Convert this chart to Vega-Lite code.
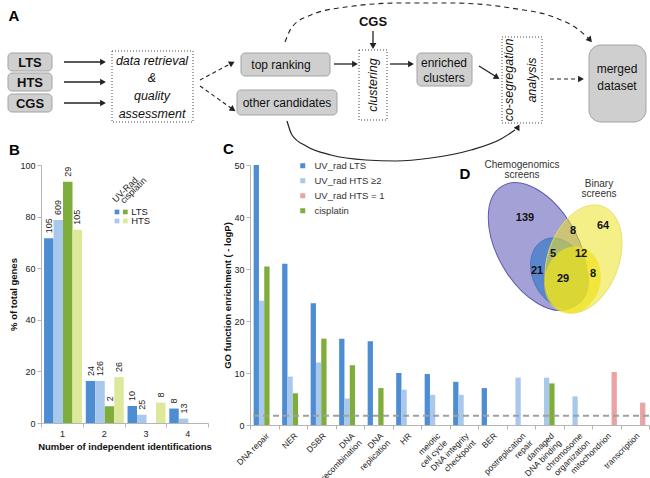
{
  "$schema": "https://vega.github.io/schema/vega-lite/v6.json",
  "padding": {"left": 7, "top": 0, "right": 0, "bottom": 0},
  "background": "white",
  "config": {
    "font": "Liberation Sans",
    "view": {"stroke": null},
    "title": {"fontSize": 15, "fontWeight": "bold", "anchor": "start", "offset": 3, "color": "#000000"},
    "axis": {"grid": false, "domainColor": "#b5b5b5", "tickColor": "#b5b5b5", "labelColor": "#222222", "labelFontSize": 9, "titleColor": "#111111", "titleFontSize": 9.5, "titleFontWeight": "bold", "tickSize": 4, "labelPadding": 2}
  },
  "datasets": {
    "boxes": [
      {"id": "LTS", "kind": "box", "x": 7, "x2": 51, "y": 53, "y2": 71},
      {"id": "HTS", "kind": "box", "x": 7, "x2": 51, "y": 73, "y2": 91},
      {"id": "CGS", "kind": "box", "x": 7, "x2": 51, "y": 94, "y2": 112},
      {"id": "top ranking", "kind": "box", "x": 240, "x2": 329, "y": 53, "y2": 76},
      {"id": "other candidates", "kind": "box", "x": 236, "x2": 336, "y": 90, "y2": 115},
      {"id": "enriched clusters", "kind": "box", "x": 416, "x2": 471, "y": 53, "y2": 86},
      {"id": "merged dataset", "kind": "terminal", "x": 588, "x2": 645, "y": 45, "y2": 122},
      {"id": "data retrieval & quality assessment", "kind": "step", "x": 111, "x2": 192, "y": 51, "y2": 122},
      {"id": "clustering", "kind": "step", "x": 358, "x2": 386, "y": 50, "y2": 120},
      {"id": "co-segregation analysis", "kind": "step", "x": 501, "x2": 541, "y": 37, "y2": 123}
    ],
    "arrows": [
      {"flow": "main", "x": 63, "y": 62, "x2": 100, "y2": 62},
      {"flow": "main", "x": 63, "y": 82, "x2": 100, "y2": 82},
      {"flow": "main", "x": 63, "y": 103, "x2": 100, "y2": 103},
      {"flow": "main", "x": 333, "y": 64, "x2": 352, "y2": 64},
      {"flow": "main", "x": 372, "y": 31, "x2": 372, "y2": 44},
      {"flow": "main", "x": 389, "y": 64, "x2": 408, "y2": 64},
      {"flow": "main", "x": 478, "y": 66, "x2": 494, "y2": 76},
      {"flow": "optional", "x": 199, "y": 80, "x2": 229, "y2": 64},
      {"flow": "optional", "x": 199, "y": 86, "x2": 230, "y2": 108},
      {"flow": "optional", "x": 549, "y": 79, "x2": 578, "y2": 79}
    ],
    "heads": [
      {"x": 102, "y": 62, "heading": 0},
      {"x": 102, "y": 82, "heading": 0},
      {"x": 102, "y": 103, "heading": 0},
      {"x": 354, "y": 64, "heading": 0},
      {"x": 372, "y": 46, "heading": 90},
      {"x": 410, "y": 64, "heading": 0},
      {"x": 496, "y": 77.5, "heading": 32},
      {"x": 231, "y": 63, "heading": -28},
      {"x": 232, "y": 109.5, "heading": 35},
      {"x": 580, "y": 79, "heading": 0},
      {"x": 589, "y": 40, "heading": 50},
      {"x": 517, "y": 127, "heading": -60}
    ],
    "curves": [
      {"path": "shortcut", "x": 284, "y": 42},
      {"path": "shortcut", "x": 291, "y": 27},
      {"path": "shortcut", "x": 310, "y": 15},
      {"path": "shortcut", "x": 345, "y": 7},
      {"path": "shortcut", "x": 400, "y": 3},
      {"path": "shortcut", "x": 450, "y": 3},
      {"path": "shortcut", "x": 510, "y": 8},
      {"path": "shortcut", "x": 555, "y": 18},
      {"path": "shortcut", "x": 578, "y": 30},
      {"path": "shortcut", "x": 587, "y": 38},
      {"path": "bypass", "x": 286, "y": 121},
      {"path": "bypass", "x": 291, "y": 135},
      {"path": "bypass", "x": 305, "y": 146},
      {"path": "bypass", "x": 330, "y": 155},
      {"path": "bypass", "x": 365, "y": 160},
      {"path": "bypass", "x": 395, "y": 161},
      {"path": "bypass", "x": 430, "y": 158},
      {"path": "bypass", "x": 470, "y": 150},
      {"path": "bypass", "x": 500, "y": 139},
      {"path": "bypass", "x": 514, "y": 130}
    ],
    "textsA": [
      {"text": "A", "role": "panel", "x": 13, "y": 16},
      {"text": "LTS", "role": "source", "x": 29, "y": 62.5},
      {"text": "HTS", "role": "source", "x": 29, "y": 82.5},
      {"text": "CGS", "role": "source", "x": 29, "y": 103.5},
      {"text": "CGS", "role": "source", "x": 372, "y": 22},
      {"text": "data retrieval", "role": "process", "x": 151, "y": 61},
      {"text": "&", "role": "process", "x": 151, "y": 78},
      {"text": "quality", "role": "process", "x": 151, "y": 96},
      {"text": "assessment", "role": "process", "x": 151, "y": 114},
      {"text": "top ranking", "role": "node", "x": 280, "y": 65},
      {"text": "other candidates", "role": "node", "x": 286, "y": 103},
      {"text": "enriched", "role": "node", "x": 443, "y": 63},
      {"text": "clusters", "role": "node", "x": 443, "y": 78},
      {"text": "merged", "role": "node", "x": 616, "y": 69},
      {"text": "dataset", "role": "node", "x": 616, "y": 86},
      {"text": "clustering", "role": "processV", "x": 372, "y": 85},
      {"text": "co-segregation", "role": "processV", "x": 508, "y": 80},
      {"text": "analysis", "role": "processV", "x": 531, "y": 80}
    ],
    "panelB": [
      {"identifications": 1, "series": "UV-Rad LTS", "percent": 71.6, "genes": "105"},
      {"identifications": 1, "series": "UV-Rad HTS", "percent": 78.7, "genes": "609"},
      {"identifications": 1, "series": "cisplatin LTS", "percent": 93.5, "genes": "29"},
      {"identifications": 1, "series": "cisplatin HTS", "percent": 74.9, "genes": "105"},
      {"identifications": 2, "series": "UV-Rad LTS", "percent": 16.3, "genes": "24"},
      {"identifications": 2, "series": "UV-Rad HTS", "percent": 16.3, "genes": "126"},
      {"identifications": 2, "series": "cisplatin LTS", "percent": 6.5, "genes": "2"},
      {"identifications": 2, "series": "cisplatin HTS", "percent": 17.8, "genes": "26"},
      {"identifications": 3, "series": "UV-Rad LTS", "percent": 6.6, "genes": "10"},
      {"identifications": 3, "series": "UV-Rad HTS", "percent": 3.2, "genes": "25"},
      {"identifications": 3, "series": "cisplatin HTS", "percent": 7.9, "genes": "8"},
      {"identifications": 4, "series": "UV-Rad LTS", "percent": 5.6, "genes": "8"},
      {"identifications": 4, "series": "UV-Rad HTS", "percent": 1.7, "genes": "13"}
    ],
    "legendB": [
      {"role": "swatch", "series": "UV-Rad LTS", "lx": 45.5, "ly": 81.8},
      {"role": "swatch", "series": "cisplatin LTS", "lx": 50.5, "ly": 81.8},
      {"role": "swatch", "series": "UV-Rad HTS", "lx": 45.5, "ly": 78.3},
      {"role": "swatch", "series": "cisplatin HTS", "lx": 50.5, "ly": 78.3},
      {"role": "tier", "label": "LTS", "lx": 54, "ly": 81.8},
      {"role": "tier", "label": "HTS", "lx": 54, "ly": 78.3},
      {"role": "treatment", "label": "UV-Rad", "lx": 44.9, "ly": 85.3},
      {"role": "treatment", "label": "cisplatin", "lx": 49.7, "ly": 84.9}
    ],
    "panelC": [
      {"term": "DNA repair", "series": "UV_rad LTS", "enrichment": 50},
      {"term": "DNA repair", "series": "UV_rad HTS ≥2", "enrichment": 23.9},
      {"term": "DNA repair", "series": "cisplatin", "enrichment": 30.5},
      {"term": "NER", "series": "UV_rad LTS", "enrichment": 31},
      {"term": "NER", "series": "UV_rad HTS ≥2", "enrichment": 9.3},
      {"term": "NER", "series": "cisplatin", "enrichment": 6.1},
      {"term": "DSBR", "series": "UV_rad LTS", "enrichment": 23.4},
      {"term": "DSBR", "series": "UV_rad HTS ≥2", "enrichment": 12},
      {"term": "DSBR", "series": "cisplatin", "enrichment": 16.6},
      {"term": "DNA|recombination", "series": "UV_rad LTS", "enrichment": 16.6},
      {"term": "DNA|recombination", "series": "UV_rad HTS ≥2", "enrichment": 5.1},
      {"term": "DNA|recombination", "series": "cisplatin", "enrichment": 11.5},
      {"term": "DNA|replication", "series": "UV_rad LTS", "enrichment": 16.1},
      {"term": "DNA|replication", "series": "cisplatin", "enrichment": 7.1},
      {"term": "HR", "series": "UV_rad LTS", "enrichment": 10},
      {"term": "HR", "series": "UV_rad HTS ≥2", "enrichment": 6.8},
      {"term": "meiotic|cell cycle", "series": "UV_rad LTS", "enrichment": 9.8},
      {"term": "meiotic|cell cycle", "series": "UV_rad HTS ≥2", "enrichment": 5.8},
      {"term": "DNA integrity|checkpoint", "series": "UV_rad LTS", "enrichment": 8.3},
      {"term": "DNA integrity|checkpoint", "series": "UV_rad HTS ≥2", "enrichment": 5.8},
      {"term": "BER", "series": "UV_rad LTS", "enrichment": 7.1},
      {"term": "postreplication|repair", "series": "UV_rad HTS ≥2", "enrichment": 9.1},
      {"term": "damaged|DNA binding", "series": "UV_rad HTS ≥2", "enrichment": 9.1},
      {"term": "damaged|DNA binding", "series": "cisplatin", "enrichment": 8.0},
      {"term": "chromosome|organization", "series": "UV_rad HTS ≥2", "enrichment": 5.5},
      {"term": "mitochondrion", "series": "UV_rad HTS = 1", "enrichment": 10.2},
      {"term": "transcription", "series": "UV_rad HTS = 1", "enrichment": 4.3}
    ],
    "venn": [
      {"set": "Chemogenomics screens", "cx": 143.75, "cy": 40.75},
      {"set": "Chemogenomics core", "cx": 154.75, "cy": 54},
      {"set": "Binary screens", "cx": 166.75, "cy": 47},
      {"set": "Binary core", "cx": 161.25, "cy": 57.5}
    ],
    "vennText": [
      {"text": "D", "role": "panel", "x": 107.5, "y": 4.5},
      {"text": "Chemogenomics|screens", "role": "set", "x": 136, "y": 0},
      {"text": "Binary|screens", "role": "set", "x": 174.5, "y": 9.25},
      {"text": "139", "role": "count", "x": 137.5, "y": 26.5},
      {"text": "8", "role": "count", "x": 161.5, "y": 33},
      {"text": "64", "role": "count", "x": 176.5, "y": 30.5},
      {"text": "5", "role": "count", "x": 151.5, "y": 44.5},
      {"text": "12", "role": "count", "x": 165.5, "y": 44.5},
      {"text": "21", "role": "count", "x": 143.5, "y": 53},
      {"text": "29", "role": "count", "x": 156.5, "y": 57},
      {"text": "8", "role": "count", "x": 171.5, "y": 54.5}
    ]
  },
  "spacing": -22,
  "vconcat": [
    {
      "width": 610,
      "height": 140,
      "layer": [
        {
          "data": {"name": "boxes"},
          "transform": [{"filter": "datum.kind == 'box'"}],
          "mark": {"type": "rect", "cornerRadius": 4, "fill": "#cfcfcf", "stroke": "#a3a3a3", "strokeWidth": 1},
          "encoding": {
            "x": {"field": "x", "type": "quantitative", "scale": {"domain": [40, 650], "nice": false, "zero": false}, "axis": null},
            "x2": {"field": "x2"},
            "y": {"field": "y", "type": "quantitative", "scale": {"domain": [0, 140], "nice": false, "zero": false, "reverse": true}, "axis": null},
            "y2": {"field": "y2"}
          }
        },
        {
          "data": {"name": "boxes"},
          "transform": [{"filter": "datum.kind == 'terminal'"}],
          "mark": {"type": "rect", "cornerRadius": 12, "fill": "#cfcfcf", "stroke": "#a3a3a3", "strokeWidth": 1},
          "encoding": {"x": {"field": "x", "type": "quantitative"}, "x2": {"field": "x2"}, "y": {"field": "y", "type": "quantitative"}, "y2": {"field": "y2"}}
        },
        {
          "data": {"name": "boxes"},
          "transform": [{"filter": "datum.kind == 'step'"}],
          "mark": {"type": "rect", "fill": null, "fillOpacity": 0, "stroke": "#444444", "strokeWidth": 1, "strokeDash": [1, 2]},
          "encoding": {"x": {"field": "x", "type": "quantitative"}, "x2": {"field": "x2"}, "y": {"field": "y", "type": "quantitative"}, "y2": {"field": "y2"}}
        },
        {
          "data": {"name": "arrows"},
          "transform": [{"filter": "datum.flow == 'main'"}],
          "mark": {"type": "rule", "color": "#222222", "strokeWidth": 1.3},
          "encoding": {"x": {"field": "x", "type": "quantitative"}, "x2": {"field": "x2"}, "y": {"field": "y", "type": "quantitative"}, "y2": {"field": "y2"}}
        },
        {
          "data": {"name": "arrows"},
          "transform": [{"filter": "datum.flow == 'optional'"}],
          "mark": {"type": "rule", "color": "#222222", "strokeWidth": 1.1, "strokeDash": [4, 3]},
          "encoding": {"x": {"field": "x", "type": "quantitative"}, "x2": {"field": "x2"}, "y": {"field": "y", "type": "quantitative"}, "y2": {"field": "y2"}}
        },
        {
          "data": {"name": "curves"},
          "transform": [{"filter": "datum.path == 'shortcut'"}],
          "mark": {"type": "line", "color": "#222222", "strokeWidth": 1.1, "strokeDash": [5, 4], "interpolate": "monotone"},
          "encoding": {"x": {"field": "x", "type": "quantitative"}, "y": {"field": "y", "type": "quantitative"}}
        },
        {
          "data": {"name": "curves"},
          "transform": [{"filter": "datum.path == 'bypass'"}],
          "mark": {"type": "line", "color": "#222222", "strokeWidth": 1.2, "interpolate": "monotone"},
          "encoding": {"x": {"field": "x", "type": "quantitative"}, "y": {"field": "y", "type": "quantitative"}}
        },
        {
          "data": {"name": "heads"},
          "mark": {"type": "point", "shape": "triangle-right", "filled": true, "color": "#222222", "opacity": 1, "size": 45},
          "encoding": {"x": {"field": "x", "type": "quantitative"}, "y": {"field": "y", "type": "quantitative"}, "angle": {"field": "heading", "type": "quantitative", "scale": null}}
        },
        {
          "data": {"name": "textsA"},
          "transform": [{"filter": "datum.role == 'panel'"}],
          "mark": {"type": "text", "fontSize": 15, "fontWeight": "bold", "color": "#000000", "align": "center", "baseline": "middle"},
          "encoding": {"x": {"field": "x", "type": "quantitative"}, "y": {"field": "y", "type": "quantitative"}, "text": {"field": "text"}}
        },
        {
          "data": {"name": "textsA"},
          "transform": [{"filter": "datum.role == 'source'"}],
          "mark": {"type": "text", "fontSize": 13, "fontWeight": "bold", "color": "#111111", "align": "center", "baseline": "middle"},
          "encoding": {"x": {"field": "x", "type": "quantitative"}, "y": {"field": "y", "type": "quantitative"}, "text": {"field": "text"}}
        },
        {
          "data": {"name": "textsA"},
          "transform": [{"filter": "datum.role == 'process'"}],
          "mark": {"type": "text", "fontSize": 12.5, "fontStyle": "italic", "color": "#111111", "align": "center", "baseline": "middle"},
          "encoding": {"x": {"field": "x", "type": "quantitative"}, "y": {"field": "y", "type": "quantitative"}, "text": {"field": "text"}}
        },
        {
          "data": {"name": "textsA"},
          "transform": [{"filter": "datum.role == 'processV'"}],
          "mark": {"type": "text", "fontSize": 12.5, "fontStyle": "italic", "color": "#111111", "align": "center", "baseline": "middle", "angle": 270},
          "encoding": {"x": {"field": "x", "type": "quantitative"}, "y": {"field": "y", "type": "quantitative"}, "text": {"field": "text"}}
        },
        {
          "data": {"name": "textsA"},
          "transform": [{"filter": "datum.role == 'node'"}],
          "mark": {"type": "text", "fontSize": 12, "color": "#111111", "align": "center", "baseline": "middle"},
          "encoding": {"x": {"field": "x", "type": "quantitative"}, "y": {"field": "y", "type": "quantitative"}, "text": {"field": "text"}}
        }
      ]
    },
    {
      "spacing": 10,
      "resolve": {"scale": {"color": "independent", "xOffset": "independent"}},
      "hconcat": [
        {
          "width": 167,
          "height": 258,
          "title": {"text": "B"},
          "layer": [
            {
              "data": {"name": "panelB"},
              "layer": [
                {
                  "mark": {"type": "bar"},
                  "encoding": {
                    "x": {"field": "identifications", "type": "ordinal", "scale": {"paddingInner": 0, "paddingOuter": 0}, "axis": {"title": "Number of independent identifications", "labelAngle": 0, "tickBand": "extent", "titlePadding": 3}},
                    "xOffset": {"field": "series", "type": "nominal", "sort": ["UV-Rad LTS", "UV-Rad HTS", "cisplatin LTS", "cisplatin HTS"], "scale": {"paddingInner": 0, "paddingOuter": 0.2, "align": 0.8}},
                    "y": {"field": "percent", "type": "quantitative", "scale": {"domain": [0, 100], "nice": false}, "axis": {"title": "% of total genes", "values": [0, 10, 20, 30, 40, 50, 60, 70, 80, 90, 100], "titlePadding": 1}},
                    "color": {"field": "series", "type": "nominal", "scale": {"domain": ["UV-Rad LTS", "UV-Rad HTS", "cisplatin LTS", "cisplatin HTS"], "range": ["#4d8dd2", "#a9c9ec", "#7fad3c", "#dde89b"]}, "legend": null}
                  }
                },
                {
                  "mark": {"type": "text", "angle": 270, "align": "left", "baseline": "middle", "dx": 5, "fontSize": 9, "color": "#222222"},
                  "encoding": {
                    "x": {"field": "identifications", "type": "ordinal"},
                    "xOffset": {"field": "series", "type": "nominal", "sort": ["UV-Rad LTS", "UV-Rad HTS", "cisplatin LTS", "cisplatin HTS"]},
                    "y": {"field": "percent", "type": "quantitative"},
                    "text": {"field": "genes"}
                  }
                }
              ]
            },
            {
              "data": {"name": "legendB"},
              "layer": [
                {
                  "transform": [{"filter": "datum.role == 'swatch'"}],
                  "mark": {"type": "square", "size": 22, "opacity": 1},
                  "encoding": {
                    "x": {"field": "lx", "type": "quantitative", "scale": {"domain": [0, 100], "nice": false, "zero": false}, "axis": null},
                    "y": {"field": "ly", "type": "quantitative", "scale": {"domain": [0, 100], "nice": false, "zero": false}, "axis": null},
                    "color": {"field": "series", "type": "nominal", "legend": null}
                  }
                },
                {
                  "transform": [{"filter": "datum.role == 'tier'"}],
                  "mark": {"type": "text", "align": "left", "baseline": "middle", "fontSize": 9.5, "color": "#222222"},
                  "encoding": {"x": {"field": "lx", "type": "quantitative"}, "y": {"field": "ly", "type": "quantitative"}, "text": {"field": "label"}}
                },
                {
                  "transform": [{"filter": "datum.role == 'treatment'"}],
                  "mark": {"type": "text", "align": "left", "baseline": "alphabetic", "angle": 315, "fontSize": 9, "color": "#222222"},
                  "encoding": {"x": {"field": "lx", "type": "quantitative"}, "y": {"field": "ly", "type": "quantitative"}, "text": {"field": "label"}}
                }
              ]
            }
          ],
          "resolve": {"scale": {"x": "independent", "y": "independent"}}
        },
        {
          "width": 399,
          "height": 260,
          "title": {"text": "C"},
          "layer": [
            {
              "layer": [
                {
                  "data": {"name": "panelC"},
                  "mark": {"type": "bar"},
                  "encoding": {
                    "x": {"field": "term", "type": "nominal", "sort": null, "scale": {"paddingInner": 0, "paddingOuter": 0}, "axis": {"title": null, "labelAngle": -45, "labelExpr": "split(datum.label, '|')", "tickBand": "extent", "labelFontSize": 8.5, "labelOverlap": false, "labelLineHeight": 10}},
                    "xOffset": {"field": "series", "type": "nominal", "sort": ["UV_rad LTS", "UV_rad HTS ≥2", "cisplatin", "UV_rad HTS = 1"], "scale": {"paddingInner": 0, "paddingOuter": 0.69}},
                    "y": {"field": "enrichment", "type": "quantitative", "scale": {"domain": [0, 50], "nice": false}, "axis": {"title": "GO function enrichment ( - logP)", "values": [0, 10, 20, 30, 40, 50], "titlePadding": 1}},
                    "color": {"field": "series", "type": "nominal", "scale": {"domain": ["UV_rad LTS", "UV_rad HTS ≥2", "UV_rad HTS = 1", "cisplatin"], "range": ["#4d8dd2", "#a9c9ec", "#e9a3a3", "#7fad3c"]}, "legend": {"orient": "none", "legendX": 48, "legendY": -4, "title": null, "symbolType": "square", "symbolSize": 25, "symbolStrokeWidth": 0, "labelFontSize": 9.5, "labelColor": "#333333", "rowPadding": 4, "labelOffset": 7}}
                  }
                },
                {
                  "data": {"values": [{"cutoff": 1.8}]},
                  "mark": {"type": "rule", "color": "#a0a0a0", "strokeDash": [6, 4], "strokeWidth": 2},
                  "encoding": {"y": {"field": "cutoff", "type": "quantitative"}}
                }
              ]
            },
            {
              "layer": [
                {
                  "data": {"name": "venn"},
                  "transform": [{"filter": "datum.set == 'Chemogenomics screens'"}],
                  "mark": {"type": "point", "shape": "M0,-1A0.571,1,0,1,1,0,1A0.571,1,0,1,1,0,-1Z", "size": 19600, "angle": 330, "filled": true, "fill": "#a4a1d6", "fillOpacity": 1, "opacity": 1, "stroke": "#5c58b4", "strokeWidth": 1},
                  "encoding": {
                    "x": {"field": "cx", "type": "quantitative", "scale": {"domain": [0, 199.5], "nice": false, "zero": false}, "axis": null},
                    "y": {"field": "cy", "type": "quantitative", "scale": {"domain": [0, 130], "nice": false, "zero": false, "reverse": true}, "axis": null}
                  }
                },
                {
                  "data": {"name": "venn"},
                  "transform": [{"filter": "datum.set == 'Chemogenomics core'"}],
                  "mark": {"type": "point", "shape": "M0,-1A0.74,1,0,1,1,0,1A0.74,1,0,1,1,0,-1Z", "size": 5329, "angle": 335, "filled": true, "fill": "#5a86cd", "fillOpacity": 1, "opacity": 1, "stroke": "#4a72b8", "strokeWidth": 0.8},
                  "encoding": {"x": {"field": "cx", "type": "quantitative"}, "y": {"field": "cy", "type": "quantitative"}}
                },
                {
                  "data": {"name": "venn"},
                  "transform": [{"filter": "datum.set == 'Binary screens'"}],
                  "mark": {"type": "point", "shape": "M0,-1A0.634,1,0,1,1,0,1A0.634,1,0,1,1,0,-1Z", "size": 12544, "angle": 20, "filled": true, "fill": "#ece125", "fillOpacity": 0.55, "opacity": 1, "stroke": "#e6dc60", "strokeWidth": 0.8},
                  "encoding": {"x": {"field": "cx", "type": "quantitative"}, "y": {"field": "cy", "type": "quantitative"}}
                },
                {
                  "data": {"name": "venn"},
                  "transform": [{"filter": "datum.set == 'Binary core'"}],
                  "mark": {"type": "point", "shape": "M0,-1A0.82,1,0,1,1,0,1A0.82,1,0,1,1,0,-1Z", "size": 4624, "angle": 15, "filled": true, "fill": "#eee21e", "fillOpacity": 0.7, "opacity": 1, "strokeWidth": 0},
                  "encoding": {"x": {"field": "cx", "type": "quantitative"}, "y": {"field": "cy", "type": "quantitative"}}
                },
                {
                  "data": {"name": "vennText"},
                  "transform": [{"filter": "datum.role == 'count'"}],
                  "mark": {"type": "text", "fontSize": 11, "fontWeight": "bold", "color": "#111111", "align": "center", "baseline": "middle"},
                  "encoding": {"x": {"field": "x", "type": "quantitative"}, "y": {"field": "y", "type": "quantitative"}, "text": {"field": "text"}}
                },
                {
                  "data": {"name": "vennText"},
                  "transform": [{"filter": "datum.role == 'set'"}],
                  "mark": {"type": "text", "fontSize": 10, "color": "#333333", "align": "center", "baseline": "middle", "lineBreak": "|", "lineHeight": 10},
                  "encoding": {"x": {"field": "x", "type": "quantitative"}, "y": {"field": "y", "type": "quantitative"}, "text": {"field": "text"}}
                },
                {
                  "data": {"name": "vennText"},
                  "transform": [{"filter": "datum.role == 'panel'"}],
                  "mark": {"type": "text", "fontSize": 15, "fontWeight": "bold", "color": "#000000", "align": "center", "baseline": "middle"},
                  "encoding": {"x": {"field": "x", "type": "quantitative"}, "y": {"field": "y", "type": "quantitative"}, "text": {"field": "text"}}
                }
              ]
            }
          ],
          "resolve": {"scale": {"x": "independent", "y": "independent"}}
        }
      ]
    }
  ]
}
